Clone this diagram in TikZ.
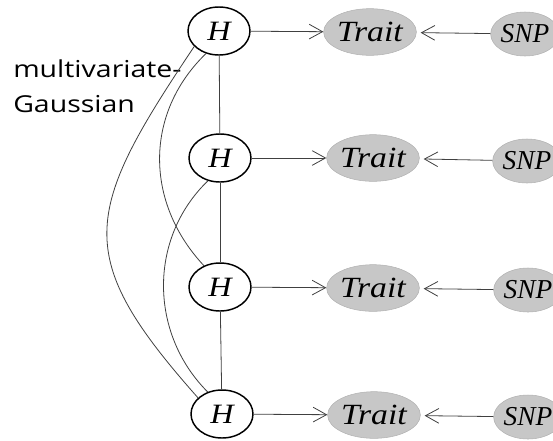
\documentclass[tikz,border=0pt]{standalone}
\usepackage{fontspec}
\setmainfont{Liberation Serif}
\newfontfamily\labelfont[FakeStretch=1.22]{Open Sans}
\newfontfamily\wideserif[FakeStretch=1.15]{Liberation Serif}
\usetikzlibrary{arrows.meta,shapes.geometric,positioning}
\tikzset{
    %Define standard arrow tip
    >={Straight Barb[length=10pt,width=11pt]},
    %Define style for hidden nodes
    hidden/.style={
           ellipse,
           draw=black, line width=1.1pt,
           inner sep=0pt,
           minimum width=46.5pt,
           minimum height=36pt,
           font=\wideserif\fontsize{21}{21}\selectfont\itshape},
    %Define style for observed nodes
    trait/.style={
           ellipse,
           draw=black!30, fill=black!22,
           inner sep=0pt,
           minimum width=47pt,
           minimum height=35pt,
           font=\wideserif\fontsize{22}{22}\selectfont\itshape},
    snp/.style={
           trait,
           minimum width=46.5pt,
           minimum height=33pt,
           font=\fontsize{20.5}{20.5}\selectfont\itshape},
    % Define line styles
    link/.style={
           draw=black!75,
           line width=0.6pt},
    imply/.style={
           ->,
           link},
    back/.style={
           ->,
           link,
           shorten >=3pt}
}
\begin{document}
\begin{tikzpicture}[x=0.75pt,y=-0.75pt]
    \useasboundingbox (0,0) rectangle (553,440);
 %nodes
    \node[hidden] (h1) at (219,31) {H};
    \node[hidden] (h2) at (220,158) {H};
    \node[hidden] (h3) at (220,287) {H};
    \node[hidden] (h4) at (222,414) {H};
    \node[trait] (t1) at (370,32) {Trait};
    \node[trait] (t2) at (373,158) {Trait};
    \node[trait] (t3) at (373,288) {Trait};
    \node[trait] (t4) at (374,415) {Trait};
    \node[snp] (s1) at (525,34) {SNP};
    \node[snp] (s2) at (527,161) {SNP};
    \node[snp] (s3) at (528,290) {SNP};
    \node[snp] (s4) at (528,417) {SNP};
    \node[anchor=base west, align=left, inner sep=0pt,
          font=\labelfont\fontsize{17.5}{26}\selectfont] (mvg) at (13,112)
          {multivariate-\\Gaussian};
 %edges
    \draw[link] (h1) -- (h2);
    \draw[link] (h2) -- (h3);
    \draw[link] (h3) -- (h4);
    \draw[link] (h1.212) .. controls +(-112,167) and +(-126,-142) .. (h4.146);
    \draw[link] (h1.240) .. controls +(-62,60) and +(-59,-63) .. (h3.127);
    \draw[link] (h2.242) .. controls +(-60,58) and +(-58,-58) .. (h4.123);
    \draw[imply] (h1) -- (t1);
    \draw[imply] (h2) -- (t2);
    \draw[imply] (h3) -- (t3);
    \draw[imply] (h4) -- (t4);
    \draw[back] (s1) -- (t1);
    \draw[back] (s2) -- (t2);
    \draw[back] (s3) -- (t3);
    \draw[back] (s4) -- (t4);
\end{tikzpicture}
\end{document}
